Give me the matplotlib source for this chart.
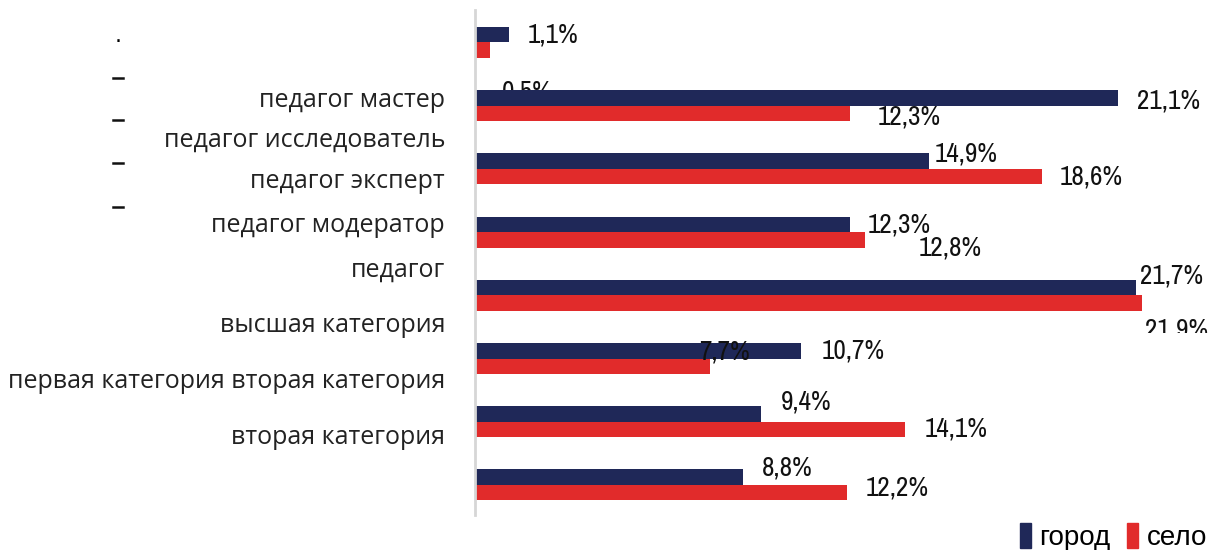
import matplotlib.pyplot as plt
from matplotlib.patches import Patch
from matplotlib.lines import Line2D
from matplotlib.transforms import Bbox, TransformedBbox
from matplotlib import font_manager
import numpy as np

# data
series = ["город", "село"]
gorod = [1.1, 21.1, 14.9, 12.3, 21.7, 10.7, 9.4, 8.8]
selo = [0.5, 12.3, 18.6, 12.8, 21.9, 7.7, 14.1, 12.2]
labels = ["педагог мастер", "педагог исследователь", "педагог эксперт",
          "педагог модератор", "педагог", "высшая категория",
          "первая категория вторая категория", "вторая категория"]

# layout (pixels in a 1216x550 figure)
label_y_px = [100, 140, 182, 225, 270, 325, 382, 438]
dash_y_px = [78, 120, 163, 207]
# value label offsets (dx, dy) in pixels from the bar end, dy downwards
gorod_off = [(19, 0), (19, 3), (6, -7), (18, 1), (4, -12), (21, 0), (19, -12), (19, -9)]
selo_off = [(12, 42), (28, 4), (18, 0), (54, 8), (3, 27), (-10, -14), (20, 0), (19, -5)]

NAVY = "#1f2858"
RED = "#e12b2b"
W, H = 1216, 550

names = sorted({f.name for f in font_manager.fontManager.ttflist})
narrow = [n for n in names if "Narrow" in n or "Condensed" in n]
value_font = narrow[:1] + ["Liberation Sans", "DejaVu Sans"]

fig = plt.figure(figsize=(W / 100, H / 100), dpi=100)
ax = fig.add_axes([475 / W, 35 / H, (W - 475) / W, 505 / H])

y = np.arange(len(gorod))
h = 0.245
ax.barh(y - h / 2, gorod, height=h, color=NAVY, zorder=2)
ax.barh(y + h / 2, selo, height=h, color=RED, zorder=2)

ax.set_xlim(0, (W - 475) / 30.47)
ax.set_ylim(7.476, -0.514)
ax.set_xticks([])
ax.set_yticks([])
for s in ["top", "right", "bottom"]:
    ax.spines[s].set_visible(False)
ax.spines["left"].set_color("#d6d6d6")
ax.spines["left"].set_linewidth(2)

def fmt(v):
    return f"{v:.1f}".replace(".", ",") + "%"

vsize = 19.5
for i, v in enumerate(gorod):
    dx, dy = gorod_off[i]
    ax.annotate(fmt(v), xy=(v, y[i] - h / 2), xytext=(dx, -dy),
                textcoords="offset pixels", ha="left", va="center",
                fontsize=vsize, family=value_font, fontstretch="condensed",
                color="#111111", zorder=3, annotation_clip=False)

for i, v in enumerate(selo):
    dx, dy = selo_off[i]
    t = ax.annotate(fmt(v), xy=(v, y[i] + h / 2), xytext=(dx, -dy),
                    textcoords="offset pixels", ha="left", va="center",
                    fontsize=vsize, family=value_font, fontstretch="condensed",
                    color="#111111", zorder=3, annotation_clip=False)
    if i == 0:
        t.set_zorder(1)  # hidden under the next bar, as in the original
    if i == 4:
        # bottom of this label is cut off in the original
        t.set_clip_box(TransformedBbox(Bbox([[0, (H - 333) / H], [1, 1]]), fig.transFigure))
        t.set_clip_on(True)

# category labels (misaligned in the original)
for txt, py in zip(labels, label_y_px):
    fig.text(445 / W, 1 - py / H, txt, ha="right", va="center",
             fontsize=18, family=["Open Sans", "DejaVu Sans"], color="#222222")

# stray bullet marks on the left
fig.text(118 / W, 1 - 42 / H, "·", ha="center", va="center", fontsize=16)
for py in dash_y_px:
    fig.add_artist(Line2D([113 / W, 123 / W], [1 - py / H, 1 - py / H],
                          transform=fig.transFigure, color="#111111", lw=1.8))

handles = [Patch(color=NAVY), Patch(color=RED)]
fig.legend(handles, series, loc="center left", bbox_to_anchor=(1020 / W, 1 - 537 / H),
           ncol=2, frameon=False, handlelength=0.4, handleheight=1.0,
           handletextpad=0.3, columnspacing=0.6, borderpad=0, borderaxespad=0,
           prop=font_manager.FontProperties(family=value_font, size=20, stretch="condensed"))

fig.savefig("out.png", dpi=100)
